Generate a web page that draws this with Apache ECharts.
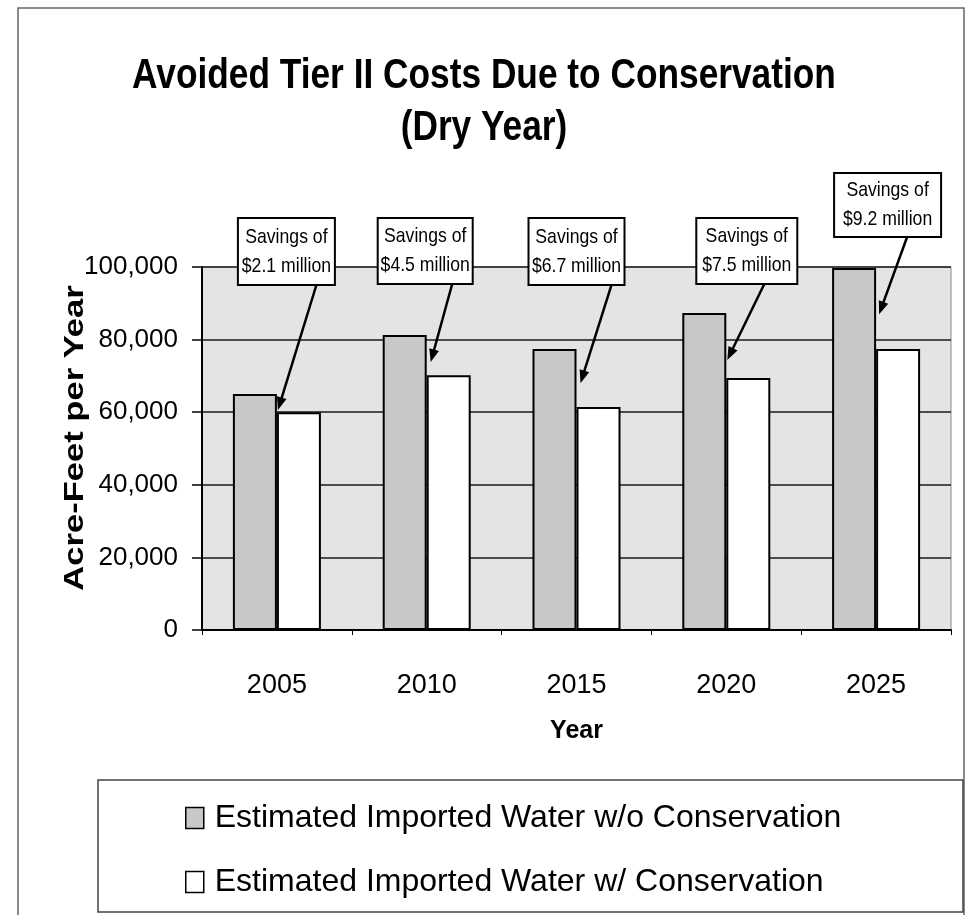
<!DOCTYPE html>
<html>
<head>
<meta charset="utf-8">
<script src="https://cdn.jsdelivr.net/npm/echarts@6/dist/echarts.min.js"></script>
<style>
html,body{margin:0;padding:0;background:#fff;}
#c{width:967px;height:915px;}
</style>
</head>
<body>
<div id="c"></div>
<script>
// ---- data ----
const years = ['2005', '2010', '2015', '2020', '2025'];
const withoutConservation = [65000, 81300, 77400, 87300, 99700];
const withConservation = [60000, 70200, 61400, 69400, 77400];
const savingsLabels = ['$2.1 million', '$4.5 million', '$6.7 million', '$7.5 million', '$9.2 million'];
const arrowTipValues = [60600, 73800, 68000, 74400, 87000];
const calloutTopValues = [113500, 113500, 113500, 113500, 125900];
const yMin = 0, yMax = 100000, yStep = 20000;
const seriesNames = ['Estimated Imported Water w/o Conservation', 'Estimated Imported Water w/ Conservation'];
const titleLines = ['Avoided Tier II Costs Due to Conservation', '(Dry Year)'];

// ---- layout / style (pixels) ----
const calloutLayout = [
  {boxDx: 9.5, arrowDx: 30, tipDx: 1, w: 97, h: 67},
  {boxDx: -1.5, arrowDx: 27, tipDx: 4, w: 95, h: 66},
  {boxDx: 0, arrowDx: 35, tipDx: 4, w: 96, h: 67},
  {boxDx: 20.5, arrowDx: 17.5, tipDx: 1, w: 101, h: 66},
  {boxDx: 11.5, arrowDx: 19.5, tipDx: 3, w: 107, h: 64}
];
const FONT = '"Liberation Sans", Arial, sans-serif';

const chart = echarts.init(document.getElementById('c'), null, {renderer: 'canvas'});

const option = {
  animation: false,
  backgroundColor: '#ffffff',
  grid: {
    left: 202, right: 16, top: 267, bottom: 285,
    show: true, backgroundColor: '#e4e4e4', borderColor: '#8a8a8a', borderWidth: 1
  },
  legend: {
    orient: 'vertical',
    left: 180, top: 797,
    itemWidth: 18, itemHeight: 21, itemGap: 32,
    icon: 'rect',
    textStyle: {fontFamily: FONT, fontSize: 32, color: '#000', padding: [0, 0, 0, 6]},
    itemStyle: {borderColor: '#000', borderWidth: 1.5},
    data: seriesNames
  },
  xAxis: {
    type: 'category',
    data: years,
    boundaryGap: true,
    name: 'Year',
    nameLocation: 'middle',
    nameGap: 89,
    nameTextStyle: {fontFamily: FONT, fontSize: 25, fontWeight: 'bold', color: '#000'},
    axisLine: {lineStyle: {color: '#000', width: 2}},
    axisTick: {show: true, length: 5, alignWithLabel: false, lineStyle: {color: '#000', width: 1}},
    axisLabel: {fontFamily: FONT, fontSize: 27, color: '#000', margin: 42}
  },
  yAxis: {
    type: 'value',
    min: yMin, max: yMax, interval: yStep,
    axisLine: {show: true, lineStyle: {color: '#000', width: 2}},
    axisTick: {show: true, length: 10, lineStyle: {color: '#000', width: 1.5}},
    splitLine: {lineStyle: {color: '#1a1a1a', width: 1.5}},
    axisLabel: {
      fontFamily: FONT, fontSize: 26, color: '#000', margin: 24,
      formatter: v => v.toLocaleString('en-US')
    }
  },
  series: [
    {
      name: seriesNames[0], type: 'bar', data: withoutConservation,
      barWidth: 44, barGap: '0%',
      itemStyle: {color: '#c8c8c8', borderColor: '#000', borderWidth: 2}
    },
    {
      name: seriesNames[1], type: 'bar', data: withConservation,
      barWidth: 44, barGap: '0%',
      itemStyle: {color: '#ffffff', borderColor: '#000', borderWidth: 2}
    }
  ]
};
chart.setOption(option);

// ---- annotations anchored through the chart's own scales ----
const els = [];
// outer frame
els.push({type: 'rect', z: -10, shape: {x: 18, y: 8, width: 946, height: 930},
  style: {fill: null, stroke: '#666', lineWidth: 1.5}, silent: true});
// legend frame
els.push({type: 'rect', z: -5, shape: {x: 98, y: 780, width: 865, height: 132},
  style: {fill: '#fff', stroke: '#444', lineWidth: 1.5}, silent: true});
// title (condensed bold look via horizontal scale)
els.push({type: 'text', x: 484, y: 76, scaleX: 0.84, z: 10,
  style: {text: titleLines[0], font: 'bold 42px ' + FONT, fill: '#000',
    textAlign: 'center', textVerticalAlign: 'middle', align: 'center', verticalAlign: 'middle'}});
els.push({type: 'text', x: 484, y: 128, scaleX: 0.84, z: 10,
  style: {text: titleLines[1], font: 'bold 42px ' + FONT, fill: '#000',
    textAlign: 'center', textVerticalAlign: 'middle', align: 'center', verticalAlign: 'middle'}});
// y axis name (letter-spaced look via horizontal stretch)
els.push({type: 'text', x: 76, y: 438, rotation: Math.PI / 2, scaleX: 1.28, z: 10,
  style: {text: 'Acre-Feet per Year', font: 'bold 27px ' + FONT, fill: '#000',
    textAlign: 'center', textVerticalAlign: 'middle', align: 'center', verticalAlign: 'middle'}});

years.forEach((y, i) => {
  const L = calloutLayout[i];
  const c = chart.convertToPixel({gridIndex: 0}, [i, calloutTopValues[i]]);
  const tipP = chart.convertToPixel({gridIndex: 0}, [i, arrowTipValues[i]]);
  const bx = c[0] + L.boxDx - L.w / 2, by = c[1];
  const sx = c[0] + L.boxDx + L.arrowDx, sy = by + L.h;
  const tx = tipP[0] + L.tipDx, ty = tipP[1];
  const dx = tx - sx, dy = ty - sy, len = Math.hypot(dx, dy);
  const ux = dx / len, uy = dy / len, nx = -uy, ny = ux;
  const head = 13, hw = 5;
  const baseX = tx - ux * head, baseY = ty - uy * head;
  els.push({type: 'line', z: 20, shape: {x1: sx, y1: sy, x2: baseX + ux * 2, y2: baseY + uy * 2},
    style: {stroke: '#000', lineWidth: 2.5}});
  els.push({type: 'polygon', z: 20, shape: {points: [[tx, ty], [baseX + nx * hw, baseY + ny * hw], [baseX - nx * hw, baseY - ny * hw]]},
    style: {fill: '#000'}});
  els.push({type: 'rect', z: 21, shape: {x: bx, y: by, width: L.w, height: L.h},
    style: {fill: '#fff', stroke: '#000', lineWidth: 2}});
  els.push({type: 'text', z: 22, x: bx + L.w / 2, y: by + L.h / 2, scaleX: 0.84,
    style: {text: 'Savings of\n' + savingsLabels[i], font: '21px ' + FONT, fill: '#000', lineHeight: 29,
      textAlign: 'center', textVerticalAlign: 'middle', align: 'center', verticalAlign: 'middle'}});
});
chart.setOption({graphic: {elements: els}});
</script>
</body>
</html>
